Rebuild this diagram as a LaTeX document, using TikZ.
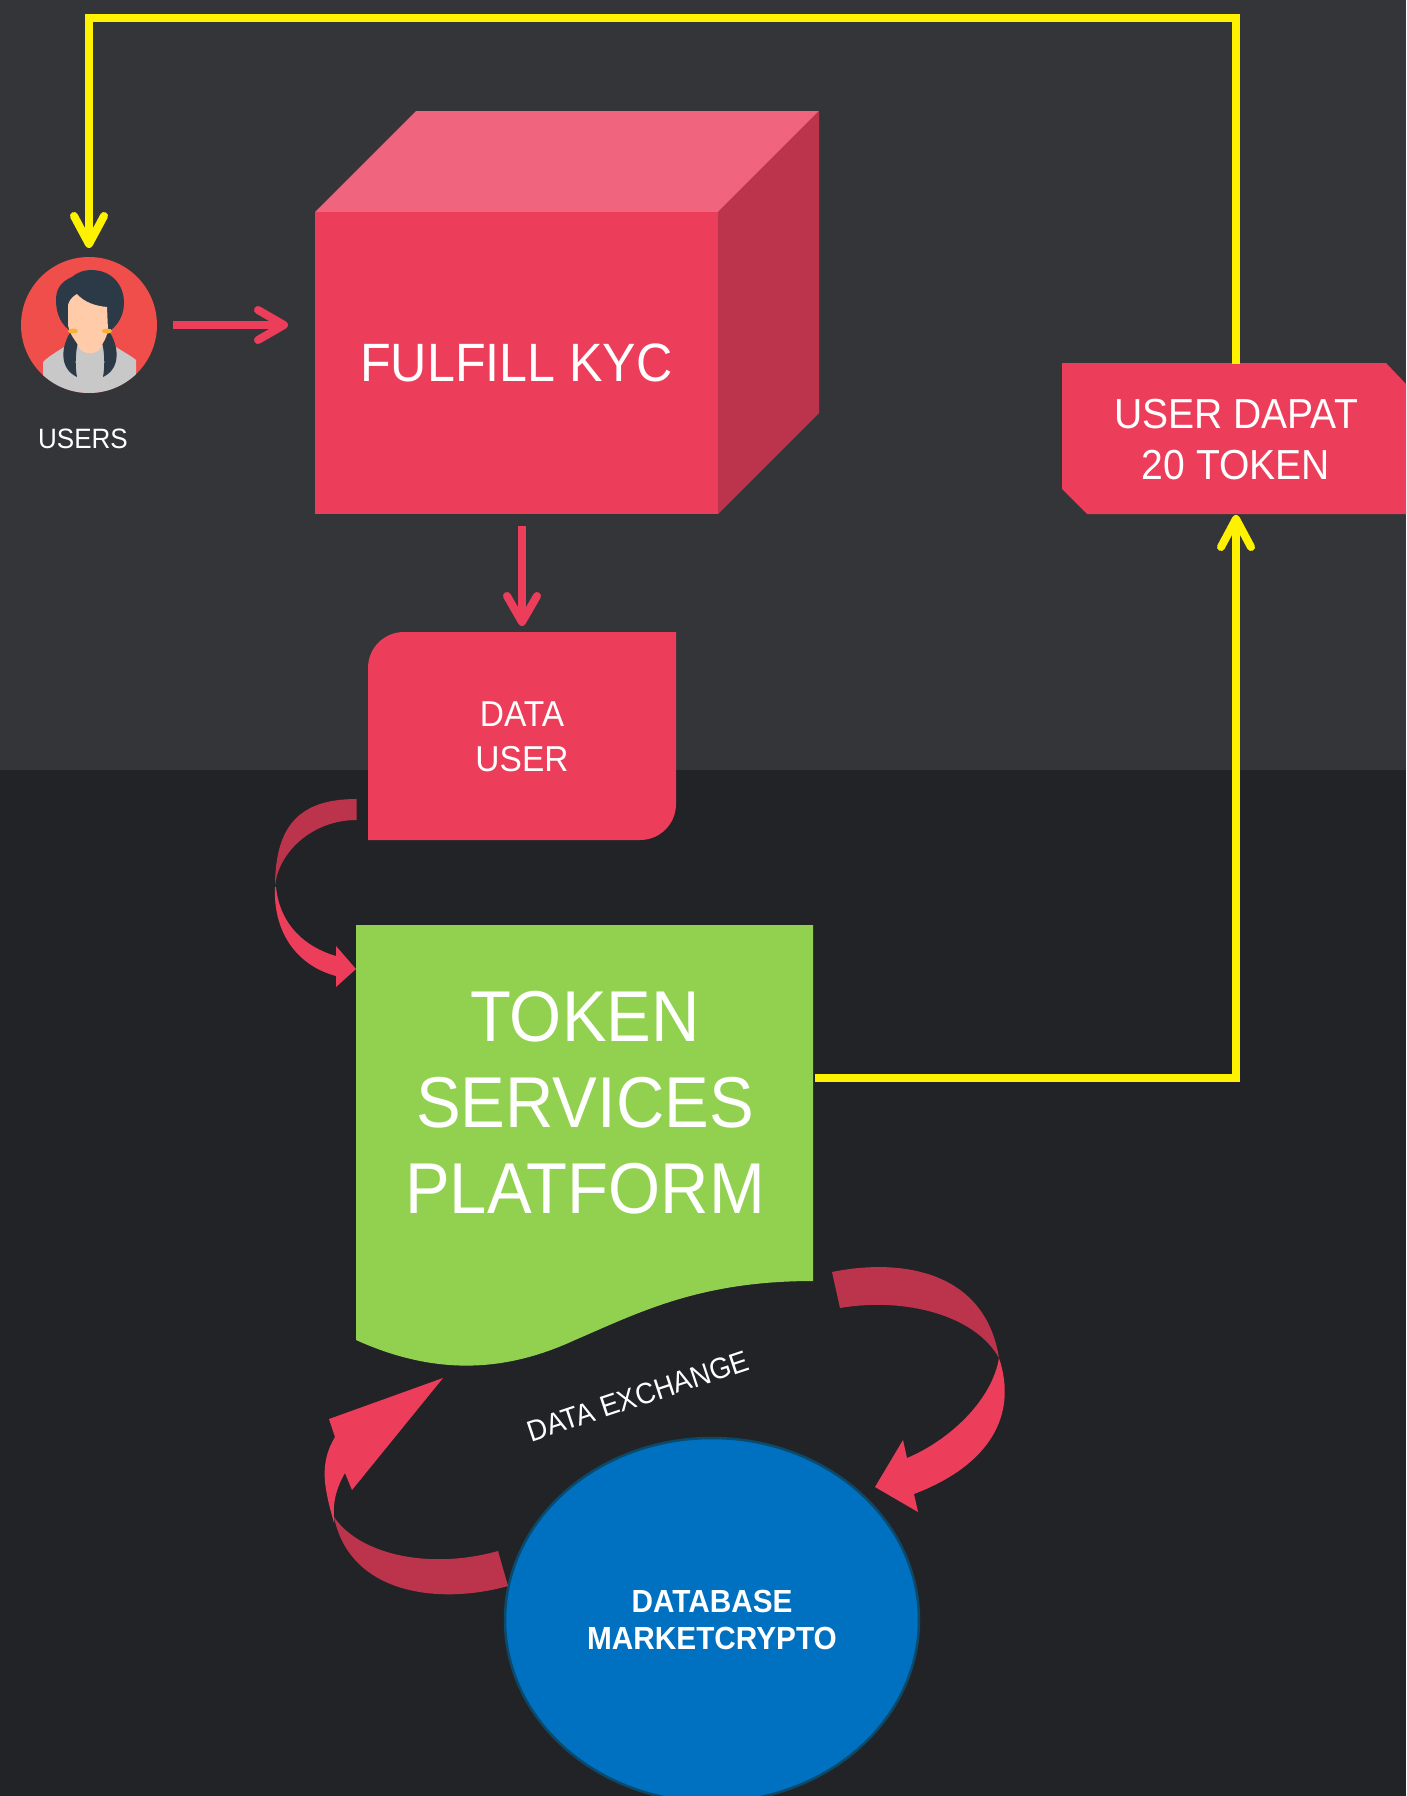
\documentclass[tikz,border=0pt]{standalone}
\usepackage{fontspec}
\setmainfont{Liberation Sans}[FakeStretch=0.93]
\usetikzlibrary{arrows.meta}
\usetikzlibrary{shapes.geometric}
\definecolor{bgtop}{HTML}{333539}
\definecolor{bgbottom}{HTML}{222327}
\definecolor{kycpink}{HTML}{EC3E5A}
\definecolor{kycdark}{HTML}{BC344B}
\definecolor{kyclight}{HTML}{F0657D}
\definecolor{tspgreen}{HTML}{92D14F}
\definecolor{dbblue}{HTML}{0070C0}
\definecolor{dbedge}{HTML}{0B4A6B}
\definecolor{avatarred}{HTML}{EF4E4A}
\definecolor{avatarhair}{HTML}{2C3A47}
\definecolor{avatarskin}{HTML}{FFCBA9}
\definecolor{avatarband}{HTML}{F9B233}
\definecolor{avatarshirt}{HTML}{C8C8C8}
\newcommand{\fsize}[1]{\fontsize{#1}{#1}\selectfont}
\tikzset{
  label_text/.style={text=white, align=center, inner sep=0pt, outer sep=0pt},
  pink_arrow/.style={draw=kycpink, line width=8pt, -{Straight Barb[length=26pt,width=30pt,round,line width=8pt]}},
  yellow_line/.style={draw=yellow, line width=8pt, -{Straight Barb[length=28pt,width=30pt,round,line width=8pt]}},
}

\begin{document}
\begin{tikzpicture}[x=1pt,y=-1pt]
      \clip (0,0) rectangle (1406,1796);
      \fill[bgtop] (0,0) rectangle (1406,770);
      \fill[bgbottom] (0,770) rectangle (1406,1796);

      % user
      \node[circle,fill=avatarred,minimum size=136pt,inner sep=0pt,outer sep=0pt] (avatar) at (89,325) {};
      \begin{scope}
        \clip (89,325) circle (68);
        \fill[avatarshirt] (43,400) -- (43,362) .. controls (50,355) and (60,350) .. (67,345) -- (113,345) .. controls (120,350) and (130,355) .. (136,360) -- (136,400) -- cycle;
        \fill[avatarhair] (91,270) .. controls (112,270) and (124,285) .. (124,303) .. controls (124,318) and (115,328) .. (108,332) -- (72,332) .. controls (62,326) and (56,315) .. (56,300) .. controls (56,290) and (60,282) .. (72,277) .. controls (78,272) and (84,270) .. (91,270) -- cycle;
        \fill[avatarhair] (70,333) .. controls (62,345) and (58,368) .. (77,377) .. controls (74,360) and (77,345) .. (79,337) -- cycle;
        \fill[avatarhair] (110,333) .. controls (118,345) and (122,368) .. (103,377) .. controls (106,360) and (103,345) .. (101,337) -- cycle;
        \fill[avatarskin] (68,305) .. controls (70,298) and (74,296) .. (77,294) .. controls (84,302) and (95,306) .. (107,307) -- (108,330) .. controls (106,340) and (103,342) .. (102,345) .. controls (100,356) and (80,356) .. (78,345) .. controls (75,340) and (70,335) .. (68,325) -- cycle;
        \fill[avatarband] (73,331) ellipse (5 and 2.5);
        \fill[avatarband] (107,331) ellipse (5 and 2.5);
      \end{scope}
      \node[label_text,font=\fsize{28}] (users) at (83,439) {USERS};

      % cube
      \fill[kyclight] (315,212) -- (416,111) -- (819,111) -- (718,212) -- cycle;
      \fill[kycdark] (718,212) -- (819,111) -- (819,413) -- (718,514) -- cycle;
      \node[label_text,fill=kycpink,minimum width=403pt,minimum height=302pt,font=\fsize{54}] (kyc) at (516.5,363) {\raisebox{-2pt}{FULFILL KYC}};

      % data user
      \fill[kycpink] (368,840) -- (368,668) .. controls (368,648) and (384,632) .. (404,632) -- (676,632) -- (676,804) .. controls (676,824) and (660,840) .. (640,840) -- cycle;
      \node[label_text,minimum width=308pt,minimum height=208pt,font=\fsize{36}] (datauser) at (522,737) {DATA\\[9pt]USER};

      % token platform
      \fill[tspgreen] (356,925) -- (813,925) -- (813,1281) .. controls (700,1281) and (640,1312) .. (575,1340) .. controls (510,1370) and (440,1378) .. (356,1340) -- cycle;
      \node[label_text,font=\fsize{72}] (tsp) at (585,1103) {TOKEN\\[14pt]SERVICES\\[14pt]PLATFORM};
      \coordinate (tspout) at (815,1078);

      % reward
      \fill[kycpink] (1062,363) -- (1386,363) -- (1406,384) -- (1406,514) -- (1087,514) -- (1062,489) -- cycle;
      \node[label_text,minimum width=348pt,minimum height=151pt,font=\fsize{42}] (reward) at (1236,439.5) {USER DAPAT\\[9pt]20 TOKEN};
      \coordinate (topbend) at (89,18);

      % database
      \node[ellipse,fill=dbblue,draw=dbedge,line width=2.5pt,minimum width=414pt,minimum height=364pt,inner sep=0pt,outer sep=0pt,text=white,align=center,font=\fsize{32}\bfseries] (db) at (712,1620) {DATABASE\\[5pt]MARKETCRYPTO};
      \node[label_text,rotate=18.4,font=\fsize{29.5}] (exchange) at (638,1396) {DATA EXCHANGE};

      % straight connectors
      \draw[pink_arrow,shorten <=16pt,shorten >=27pt] (avatar) -- (kyc.west |- avatar);
      \draw[pink_arrow,shorten <=12pt,shorten >=7pt] (kyc.south -| datauser.north) -- (datauser.north);
      \draw[yellow_line,shorten >=9pt] (reward.north) |- (topbend) -- (avatar.north);
      \draw[yellow_line] (tspout) -| (reward.south);

      % ribbon arrows
      \fill[kycdark] (356.7,799) .. controls (300,799) and (275,825) .. (275,887) .. controls (277,855) and (310,820) .. (356.7,820) -- cycle;
      \fill[kycpink] (275,887) .. controls (273,930) and (295,965) .. (336,976) -- (336,987) -- (356,969) -- (336,946) -- (336,956) .. controls (305,947) and (280,925) .. (276,887) -- cycle;
      \fill[kycdark] (832,1272) .. controls (900,1258) and (985,1270) .. (999,1358) .. controls (975,1315) and (905,1297) .. (840,1308) -- cycle;
      \fill[kycpink] (999,1358) .. controls (1018,1415) and (990,1465) .. (914,1494) -- (918,1512) -- (875,1487) -- (903,1440) -- (907,1458) .. controls (950,1440) and (992,1400) .. (999,1358) -- cycle;
      \fill[kycdark] (508,1586) .. controls (440,1605) and (350,1595) .. (334,1517) .. controls (360,1555) and (430,1570) .. (498,1551) -- cycle;
      \fill[kycpink] (334,1523) .. controls (325,1490) and (318,1465) .. (335,1437) -- (329,1419) -- (443,1378) -- (352,1490) -- (345,1473) .. controls (335,1490) and (333,1505) .. (334,1517) -- cycle;
\end{tikzpicture}
\end{document}
